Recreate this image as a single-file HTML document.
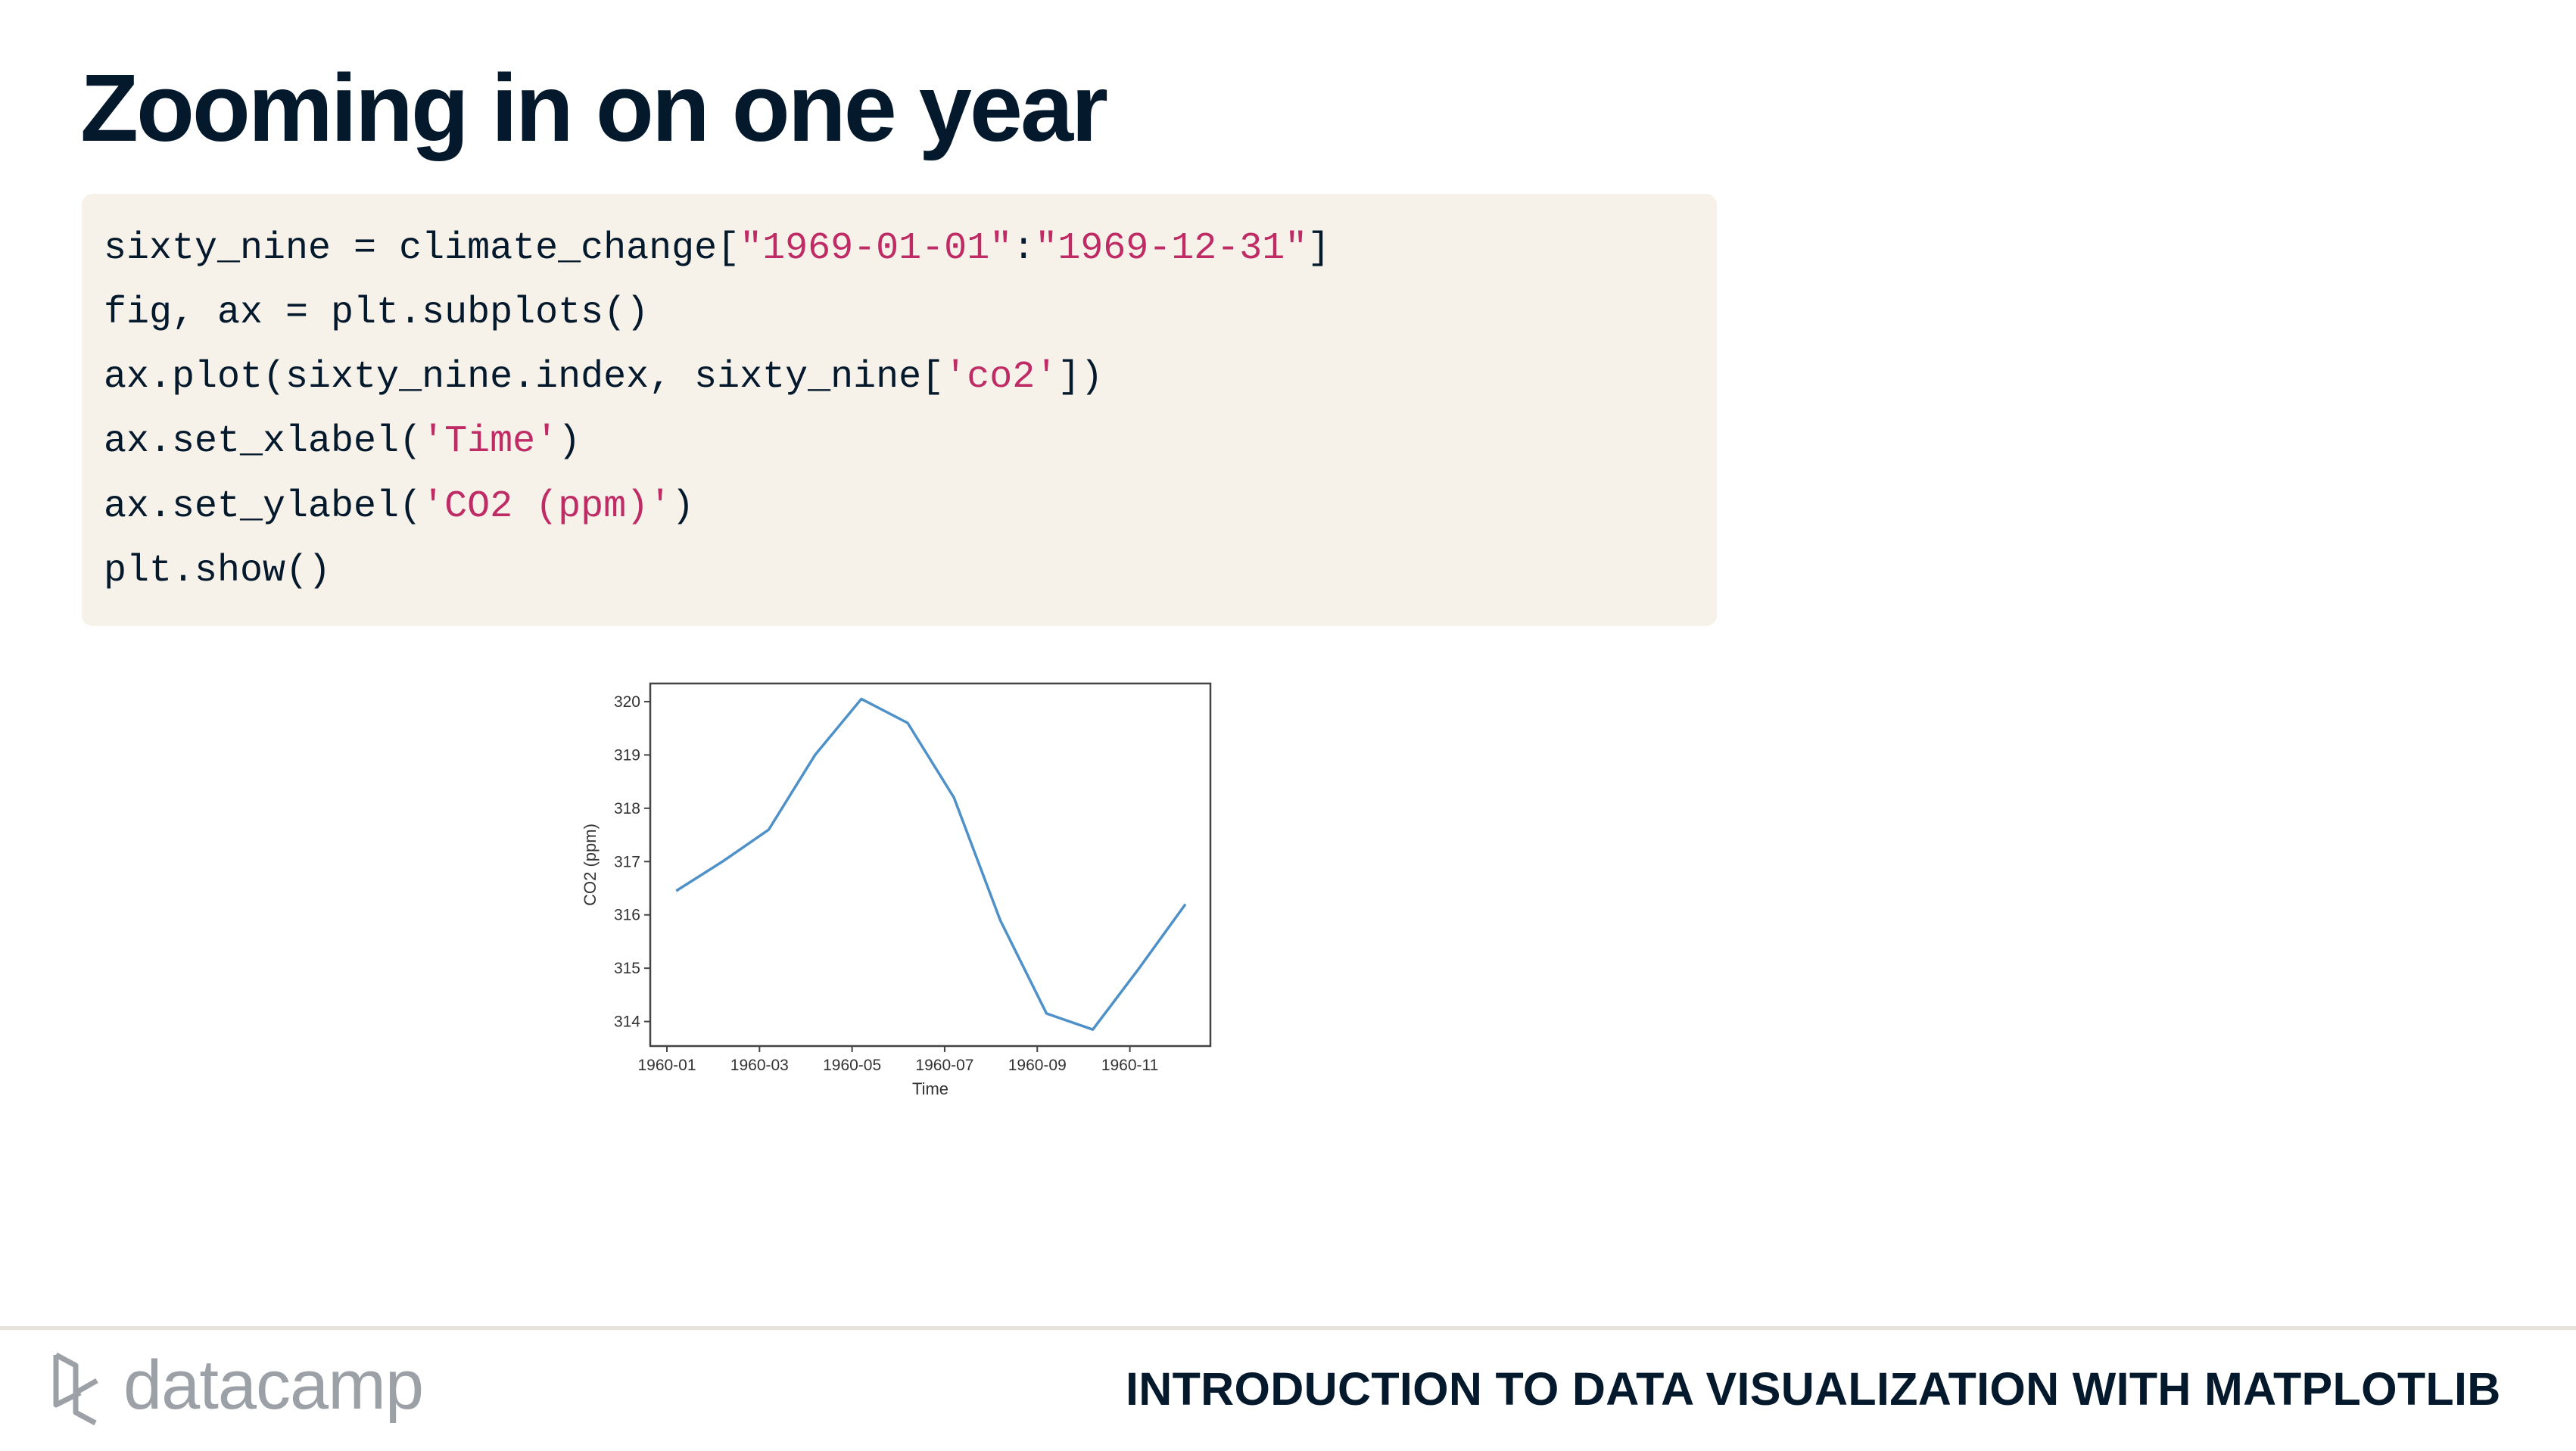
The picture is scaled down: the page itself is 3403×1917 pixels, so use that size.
<!DOCTYPE html>
<html><head><meta charset="utf-8"><style>
body{margin:0;width:3403px;height:1917px;background:#fff;position:relative;overflow:hidden;font-family:"Liberation Sans",sans-serif}
.abs{position:absolute}
#title{left:106px;top:70px;font-size:126px;font-weight:bold;color:#05192d;letter-spacing:-3px;white-space:nowrap}
#code{left:108px;top:256px;width:2160px;height:571px;background:#f6f2ea;border-radius:14px}
.line{position:absolute;left:29px;font-family:"Liberation Mono",monospace;font-size:50px;color:#05192d;white-space:pre}
.s{color:#bf2b65}
#foot-line{left:0;top:1752px;width:3403px;height:5px;background:#e7e3dc}
#course{left:1487px;top:1800px;font-size:61px;font-weight:bold;color:#05192d;white-space:nowrap;letter-spacing:0.3px}
#dc{left:163px;top:1778px;font-size:92px;color:#9ba1a7;white-space:nowrap;letter-spacing:-1px}
</style></head><body>
<div id="title" class="abs">Zooming in on one year</div>
<div id="code" class="abs">
<div class="line" style="top:44px">sixty_nine = climate_change[<span class="s">"1969-01-01"</span>:<span class="s">"1969-12-31"</span>]</div>
<div class="line" style="top:129px">fig, ax = plt.subplots()</div>
<div class="line" style="top:214px">ax.plot(sixty_nine.index, sixty_nine[<span class="s">'co2'</span>])</div>
<div class="line" style="top:299px">ax.set_xlabel(<span class="s">'Time'</span>)</div>
<div class="line" style="top:385px">ax.set_ylabel(<span class="s">'CO2 (ppm)'</span>)</div>
<div class="line" style="top:470px">plt.show()</div>
</div>
<svg class="abs" style="left:0;top:0" width="3403" height="1917" id="chart"></svg>
<div id="foot-line" class="abs"></div>
<svg class="abs" style="left:68px;top:1784px" width="80" height="100">
<path d="M6 6 L6 72 L38 56 M6 6 L32 20 L32 82 L58 96 M32 56 L60 40" fill="none" stroke="#9ba1a7" stroke-width="7" stroke-linejoin="round"/>
</svg>
<div id="dc" class="abs">datacamp</div>
<div id="course" class="abs">INTRODUCTION TO DATA VISUALIZATION WITH MATPLOTLIB</div>
<script>
const months=[0,1,2,3,4,5,6,7,8,9,10,11];
const co2=[316.45,317.0,317.6,319.0,320.05,319.6,318.2,315.9,314.15,313.85,315.0,316.2];
const yTicks=[314,315,316,317,318,319,320];
const xTickMonths=[0,2,4,6,8,10];
const xTickLabels=["1960-01","1960-03","1960-05","1960-07","1960-09","1960-11"];
const NS="http://www.w3.org/2000/svg";
const svg=document.getElementById('chart');
const L=859,R=1599,T=903,B=1382;
const xmin=-0.36,xmax=11.74,ymin=313.54,ymax=320.34;
const xs=m=>L+(m-xmin)/(xmax-xmin)*(R-L);
const ys=v=>B-(v-ymin)/(ymax-ymin)*(B-T);
function mk(t,a){const e=document.createElementNS(NS,t);for(const k in a)e.setAttribute(k,a[k]);svg.appendChild(e);return e;}
const frame=mk('rect',{x:L,y:T,width:R-L,height:B-T,fill:'none',stroke:'#444',"stroke-width":2.5});


yTicks.forEach(v=>{
 const y=ys(v);
 const tk=mk('line',{x1:L-8,x2:L,y1:y,y2:y,stroke:'#444',"stroke-width":2});
 
 
 const t=mk('text',{x:L-13,y:y+7,"text-anchor":"end","font-size":21,fill:'#333',"font-family":"Liberation Sans, sans-serif"});
 t.textContent=v;
 
 
});
xTickMonths.forEach((m,i)=>{
 const x=xs(m);
 const tk=mk('line',{x1:x,x2:x,y1:B,y2:B+8,stroke:'#444',"stroke-width":2});
 
 
 const t=mk('text',{x:x,y:B+32,"text-anchor":"middle","font-size":21,fill:'#333',"font-family":"Liberation Sans, sans-serif"});
 t.textContent=xTickLabels[i];
 
 
});
const xl=mk('text',{x:(L+R)/2,y:B+64,"text-anchor":"middle","font-size":22,fill:'#333',"font-family":"Liberation Sans, sans-serif"});
xl.textContent='Time';


const yl=mk('text',{x:0,y:0,"text-anchor":"middle","font-size":22,fill:'#333',"font-family":"Liberation Sans, sans-serif",transform:`translate(${L-72},${(T+B)/2}) rotate(-90)`});
yl.textContent='CO2 (ppm)';


const pts=months.map((m,i)=>xs(m+0.2)+','+ys(co2[i])).join(' ');
const pl=mk('polyline',{points:pts,fill:'none',stroke:'#4e91c8',"stroke-width":3.5,"stroke-linejoin":"round"});


</script>
</body></html>
